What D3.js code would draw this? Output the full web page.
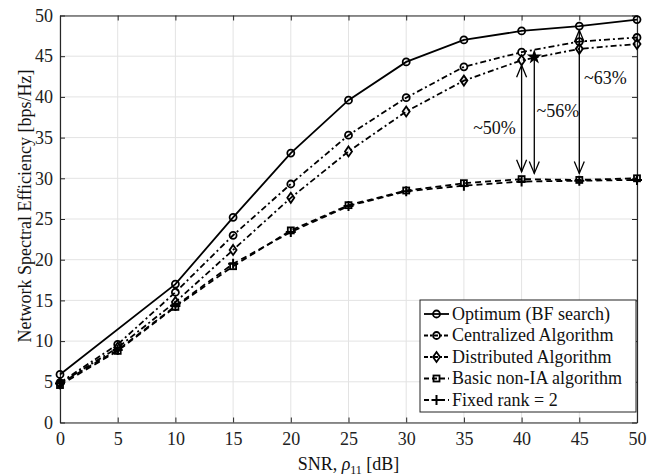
<!DOCTYPE html>
<html><head><meta charset="utf-8">
<script src="https://cdn.jsdelivr.net/npm/d3@7"></script>
<style>body{margin:0;background:#fff}svg{display:block;font-family:"Liberation Serif","Times New Roman",serif}</style>
</head><body><svg id="c" width="660" height="476"></svg>
<script>
const snr = [0,5,10,15,20,25,30,35,40,45,50];
const snrOpt = [0,10,15,20,25,30,35,40,45,50];
const optimum = [5.9,17.0,25.2,33.1,39.6,44.3,47.0,48.1,48.7,49.5];
const centralized = [4.9,9.6,16.0,23.0,29.3,35.3,39.9,43.7,45.5,46.8,47.3];
const distributed = [4.8,9.2,14.8,21.2,27.6,33.3,38.2,42.0,44.5,45.9,46.5];
const basic = [4.6,8.8,14.2,19.2,23.6,26.7,28.5,29.4,29.9,29.8,30.0];
const fixedRank = [4.8,8.9,14.3,19.5,23.4,26.6,28.4,29.1,29.6,29.7,29.8];
const xTicks = [0,5,10,15,20,25,30,35,40,45,50];
const yTicks = [0,5,10,15,20,25,30,35,40,45,50];
const legendLabels = ["Optimum (BF search)","Centralized Algorithm","Distributed Algorithm","Basic non-IA algorithm","Fixed rank = 2"];
const arrows = [{x:40,y1:43.9,y2:30.8,up:true},{x:41.1,y1:44.9,y2:30.6,up:false},{x:45,y1:48.2,y2:30.6,up:true}];
const annotations = [{x:35.8,y:35.5,t:"~50%"},{x:41.3,y:37.5,t:"~56%"},{x:45.4,y:41.6,t:"~63%"}];

const svg = d3.select("#c");
const L=60,R=637,T=15.5,B=422.5;
const FS=18;
const x = d3.scaleLinear().domain([0,50]).range([L,R]);
const y = d3.scaleLinear().domain([0,50]).range([B,T]);
const axisCol="#262626";

// grid
const g = svg.append("g");
g.selectAll(".gx").data(xTicks).enter().append("line").attr("x1",d=>x(d)).attr("x2",d=>x(d)).attr("y1",T).attr("y2",B).attr("stroke","#e3e3e3").attr("stroke-width",1);
g.selectAll(".gy").data(yTicks).enter().append("line").attr("y1",d=>y(d)).attr("y2",d=>y(d)).attr("x1",L).attr("x2",R).attr("stroke","#e3e3e3").attr("stroke-width",1);

// axes
const ax = svg.append("g").attr("transform",`translate(0,${B})`).call(d3.axisBottom(x).tickValues(xTicks).tickSizeInner(-5).tickSizeOuter(0).tickPadding(12));
const ay = svg.append("g").attr("transform",`translate(${L},0)`).call(d3.axisLeft(y).tickValues(yTicks).tickSizeInner(-5).tickSizeOuter(0).tickPadding(7));
const at = svg.append("g").attr("transform",`translate(0,${T})`).call(d3.axisTop(x).tickValues(xTicks).tickSizeInner(-5).tickSizeOuter(0).tickFormat(""));
const ar = svg.append("g").attr("transform",`translate(${R},0)`).call(d3.axisRight(y).tickValues(yTicks).tickSizeInner(-5).tickSizeOuter(0).tickFormat(""));
[ax,ay,at,ar].forEach(a=>{a.select(".domain").attr("stroke",axisCol).attr("stroke-width",1.2);a.selectAll(".tick line").attr("stroke",axisCol);a.selectAll("text").attr("font-size",FS).attr("fill","#222").attr("font-family","Liberation Serif");});
ax.selectAll("text").attr("dy","0.6em");

// series
const series = [
 {xs:snrOpt,v:optimum,dash:null,m:"circle"},
 {xs:snr,v:centralized,dash:"6,3,2,3",m:"circle"},
 {xs:snr,v:distributed,dash:"6,3,2,3",m:"diamond"},
 {xs:snr,v:basic,dash:"6,4",m:"square"},
 {xs:snr,v:fixedRank,dash:"6,4",m:"plus"}
];
const line = d3.line().x(d=>x(d[0])).y(d=>y(d[1]));
function marker(sel,type,cx,cy){
  if(type==="circle") sel.append("circle").attr("cx",cx).attr("cy",cy).attr("r",3.5).attr("fill","none").attr("stroke","#000").attr("stroke-width",1.8);
  else if(type==="diamond") sel.append("path").attr("d",`M${cx},${cy-5}L${cx+3.5},${cy}L${cx},${cy+5}L${cx-3.5},${cy}Z`).attr("fill","none").attr("stroke","#000").attr("stroke-width",1.8);
  else if(type==="square") sel.append("rect").attr("x",cx-3).attr("y",cy-3).attr("width",6).attr("height",6).attr("fill","none").attr("stroke","#000").attr("stroke-width",1.8);
  else if(type==="plus") sel.append("path").attr("d",`M${cx-5},${cy}H${cx+5}M${cx},${cy-5}V${cy+5}`).attr("stroke","#000").attr("stroke-width",2);
}
series.forEach(s=>{
  const pts = s.xs.map((d,i)=>[d,s.v[i]]);
  svg.append("path").datum(pts).attr("d",line).attr("fill","none").attr("stroke","#000").attr("stroke-width",1.8).attr("stroke-dasharray",s.dash);
  const mg = svg.append("g");
  pts.forEach(p=>marker(mg,s.m,x(p[0]),y(p[1])));
});

// arrows
function head(cx,cy,dir){ // dir=1 points down
  svg.append("path").attr("d",`M${cx-5},${cy-dir*12}L${cx},${cy}L${cx+5},${cy-dir*12}`).attr("fill","none").attr("stroke","#000").attr("stroke-width",1.3);
}
arrows.forEach(a=>{
  svg.append("line").attr("x1",x(a.x)).attr("x2",x(a.x)).attr("y1",y(a.y1)).attr("y2",y(a.y2)).attr("stroke","#000").attr("stroke-width",1.3);
  head(x(a.x),y(a.y2),1);
  if(a.up) head(x(a.x),y(a.y1),-1);
  else svg.append("path").attr("d",d3.symbol().type(d3.symbolStar).size(70)()).attr("transform",`translate(${x(a.x)},${y(a.y1)})`).attr("fill","#000");
});
annotations.forEach(a=>{
  svg.append("text").attr("x",x(a.x)).attr("y",y(a.y)).attr("font-size",FS).attr("text-anchor","start").attr("fill","#111").text(a.t);
});

// legend
const lg = svg.append("g");
lg.append("rect").attr("x",420).attr("y",300).attr("width",216).attr("height",112).attr("fill","#fff").attr("stroke","#222").attr("stroke-width",1);
legendLabels.forEach((t,i)=>{
  const yy = 314+i*21.5;
  lg.append("line").attr("x1",424).attr("x2",449).attr("y1",yy).attr("y2",yy).attr("stroke","#000").attr("stroke-width",1.8).attr("stroke-dasharray",series[i].dash?(i<3?"4,2,2,2":"5,3"):null);
  marker(lg,series[i].m,436.5,yy);
  lg.append("text").attr("x",452).attr("y",yy+5.5).attr("font-size",FS).attr("fill","#111").text(t);
});

// titles
svg.append("text").attr("transform",`translate(31,206) rotate(-90)`).attr("text-anchor","middle").attr("font-size",FS).attr("fill","#111").text("Network Spectral Efficiency [bps/Hz]");
const xt = svg.append("text").attr("x",(L+R)/2).attr("y",470).attr("text-anchor","middle").attr("font-size",FS).attr("fill","#111");
xt.append("tspan").text("SNR, ");
xt.append("tspan").attr("font-style","italic").text("ρ");
xt.append("tspan").attr("font-size",12).attr("dy",4).text("11");
xt.append("tspan").attr("dy",-4).text(" [dB]");
</script></body></html>
